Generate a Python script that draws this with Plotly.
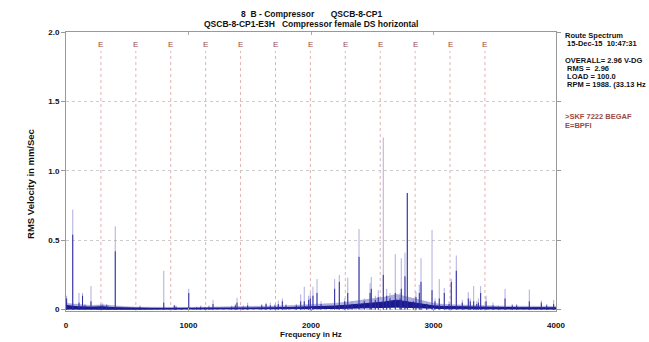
import plotly.graph_objects as go

# ---------------- data ----------------
peak_freq = [5, 55, 106, 135, 155, 204, 261, 286, 300, 332, 343, 402, 504, 604, 798, 884, 898, 1002,
             1067, 1100, 1135, 1167, 1200, 1353, 1382, 1396, 1447, 1483, 1598, 1633, 1668, 1706, 1733,
             1766, 1796, 1880, 1916, 1945, 1981, 1994, 2016, 2049, 2082, 2193, 2231, 2275, 2300, 2335,
             2392, 2435, 2482, 2492, 2525, 2549, 2590, 2618, 2645, 2688, 2727, 2737, 2767, 2786, 2835,
             2857, 2884, 2898, 2944, 2988, 3012, 3047, 3088, 3127, 3145, 3186, 3235, 3284, 3300, 3328,
             3353, 3366, 3385, 3429, 3486, 3529, 3584, 3643, 3679, 3782, 3880, 3924, 3981]
peak_light = [0.10, 0.72, 0.12, 0.12, 0.04, 0.17, 0.03, 0.04, 0.045, 0.04, 0.03, 0.60, 0.02, 0.03, 0.28,
              0.035, 0.03, 0.15, 0.02, 0.03, 0.02, 0.03, 0.07, 0.03, 0.04, 0.085, 0.03, 0.05, 0.04, 0.05,
              0.05, 0.04, 0.065, 0.08, 0.04, 0.04, 0.11, 0.165, 0.10, 0.12, 0.165, 0.22, 0.06, 0.22, 0.25,
              0.08, 0.23, 0.06, 0.58, 0.08, 0.19, 0.235, 0.10, 0.14, 1.24, 0.15, 0.12, 0.40, 0.12, 0.37,
              0.41, 0.84, 0.08, 0.13, 0.18, 0.37, 0.05, 0.575, 0.08, 0.22, 0.155, 0.06, 0.22, 0.39, 0.07,
              0.125, 0.08, 0.17, 0.06, 0.08, 0.17, 0.10, 0.05, 0.03, 0.15, 0.04, 0.04, 0.145, 0.065, 0.04,
              0.07]
peak_dark = [0.08, 0.54, 0.05, 0.10, 0.03, 0.06, 0.02, 0.03, 0.03, 0.03, 0.02, 0.42, 0.015, 0.02, 0.05,
             0.03, 0.02, 0.12, 0.015, 0.02, 0.015, 0.02, 0.04, 0.02, 0.03, 0.05, 0.02, 0.03, 0.03, 0.04,
             0.03, 0.03, 0.04, 0.06, 0.03, 0.03, 0.06, 0.06, 0.07, 0.08, 0.10, 0.12, 0.04, 0.15, 0.20,
             0.06, 0.12, 0.04, 0.38, 0.06, 0.12, 0.15, 0.07, 0.09, 0.25, 0.10, 0.08, 0.12, 0.08, 0.15,
             0.24, 0.84, 0.06, 0.09, 0.12, 0.20, 0.04, 0.14, 0.06, 0.08, 0.12, 0.04, 0.20, 0.28, 0.05,
             0.08, 0.06, 0.06, 0.04, 0.05, 0.12, 0.06, 0.03, 0.02, 0.08, 0.03, 0.03, 0.06, 0.05, 0.03,
             0.04]

floor_freq = [0, 100, 200, 300, 400, 500, 600, 700, 800, 900, 1000, 1100, 1200, 1300, 1400, 1500, 1600,
              1700, 1800, 1900, 2000, 2100, 2200, 2300, 2400, 2500, 2600, 2700, 2800, 2900, 3000, 3100,
              3200, 3300, 3400, 3500, 3600, 3700, 3800, 3900, 4000]
floor_lo = [0.004, 0.005, 0.004, 0.004, 0.003, 0.003, 0.003, 0.003, 0.003, 0.003, 0.003, 0.003, 0.003,
            0.003, 0.004, 0.004, 0.004, 0.004, 0.005, 0.005, 0.006, 0.007, 0.008, 0.010, 0.012, 0.015,
            0.018, 0.018, 0.016, 0.012, 0.009, 0.007, 0.006, 0.005, 0.005, 0.004, 0.004, 0.004, 0.004,
            0.004, 0.004]
floor_hi = [0.030, 0.020, 0.018, 0.020, 0.014, 0.011, 0.010, 0.009, 0.009, 0.009, 0.009, 0.009, 0.010,
            0.010, 0.011, 0.011, 0.012, 0.013, 0.015, 0.017, 0.020, 0.022, 0.026, 0.032, 0.038, 0.046,
            0.055, 0.068, 0.055, 0.038, 0.027, 0.022, 0.020, 0.018, 0.018, 0.016, 0.014, 0.014, 0.014,
            0.013, 0.013]
floor_haze = [0.045, 0.035, 0.03, 0.035, 0.025, 0.02, 0.018, 0.016, 0.016, 0.016, 0.016, 0.016, 0.02,
              0.02, 0.022, 0.022, 0.024, 0.026, 0.028, 0.032, 0.036, 0.04, 0.046, 0.055, 0.065, 0.08,
              0.09, 0.11, 0.09, 0.065, 0.045, 0.036, 0.033, 0.03, 0.03, 0.028, 0.025, 0.025, 0.025,
              0.023, 0.023]

bpfi_freq = [285, 570, 855, 1140, 1425, 1710, 1995, 2280, 2565, 2850, 3135, 3420]

x_ticks = [0, 1000, 2000, 3000, 4000]
x_ticktext = ["0", "1000", "2000", "3000", "4000"]
y_ticks = [0, 0.5, 1.0, 1.5, 2.0]
y_ticktext = ["0", "0.5", "1.0", "1.5", "2.0"]

title_lines = ["8  B - Compressor       QSCB-8-CP1",
               "QSCB-8-CP1-E3H   Compressor female DS horizontal"]
info_lines = ["Route Spectrum", " 15-Dec-15  10:47:31", "OVERALL= 2.96 V-DG", " RMS =  2.96",
              " LOAD = 100.0", " RPM = 1988. (33.13 Hz"]
fault_lines = [">SKF 7222 BEGAF", "E=BPFI"]
x_title = "Frequency in Hz"
y_title = "RMS Velocity in mm/Sec"

# ---------------- figure ----------------
W, H = 649, 342
L, R, T, B = 66, 93, 32, 29
plot_h = H - T - B
plot_w = W - L - R
FONT = "Liberation Sans, Arial, sans-serif"
NAVY = "#1a1a90"
SPIKE = "#2c2ca0"
LIGHT = "rgba(140,140,210,0.7)"
BROWN = "#9a4a45"


def py(ypix):
    return (H - B - ypix) / plot_h


def px(xpix):
    return (xpix - L) / plot_w


def spikes(freqs, amps):
    xs, ys = [], []
    for f, a in zip(freqs, amps):
        xs += [f, f, None]
        ys += [0, a, None]
    return xs, ys


fig = go.Figure()

fig.add_trace(go.Scatter(x=floor_freq, y=floor_lo, mode="lines", line=dict(color=LIGHT, width=0.5),
                         hoverinfo="skip", showlegend=False))
fig.add_trace(go.Scatter(x=floor_freq, y=floor_haze, mode="lines", fill="tonexty",
                         fillcolor=LIGHT, line=dict(color=LIGHT, width=0.5),
                         hoverinfo="skip", showlegend=False))
lx, ly = spikes(peak_freq, peak_light)
fig.add_trace(go.Scatter(x=lx, y=ly, mode="lines", line=dict(color=LIGHT, width=1),
                         hoverinfo="skip", showlegend=False))
fig.add_trace(go.Scatter(x=floor_freq, y=floor_lo, mode="lines", line=dict(color=NAVY, width=1),
                         hoverinfo="skip", showlegend=False))
fig.add_trace(go.Scatter(x=floor_freq, y=floor_hi, mode="lines", fill="tonexty",
                         fillcolor=NAVY, line=dict(color=NAVY, width=1),
                         hoverinfo="skip", showlegend=False))
dx, dy = spikes(peak_freq, peak_dark)
fig.add_trace(go.Scatter(x=dx, y=dy, mode="lines", line=dict(color=SPIKE, width=1),
                         hoverinfo="skip", showlegend=False))

shapes = []
annotations = []
for f in bpfi_freq:
    shapes.append(dict(type="line", xref="x", yref="paper", x0=f, x1=f, y0=0, y1=py(51),
                       line=dict(color="rgba(200,130,130,0.6)", width=1, dash="dot"), layer="below"))
    annotations.append(dict(x=f, xref="x", y=py(45), yref="paper", text="E", showarrow=False,
                            font=dict(family=FONT, size=8, color=BROWN), xanchor="center", yanchor="middle"))

for i, t in enumerate(title_lines):
    annotations.append(dict(x=0.5, xref="paper", y=py(14 + 10 * i), yref="paper", text="<b>%s</b>" % t,
                            showarrow=False, font=dict(family=FONT, size=8.5, color="#111"),
                            xanchor="center", yanchor="middle"))

xr = px(563)
for t, yp in zip(info_lines, [36, 44, 61, 69, 77, 85]):
    annotations.append(dict(x=xr, xref="paper", y=py(yp), yref="paper", text="<b>%s</b>" % t,
                            showarrow=False, font=dict(family=FONT, size=7.5, color="#111"),
                            xanchor="left", yanchor="middle"))
for t, yp in zip(fault_lines, [117, 126]):
    annotations.append(dict(x=xr, xref="paper", y=py(yp), yref="paper", text="<b>%s</b>" % t,
                            showarrow=False, font=dict(family=FONT, size=7.5, color=BROWN),
                            xanchor="left", yanchor="middle"))

annotations.append(dict(x=0.5, xref="paper", y=py(337), yref="paper", text="<b>%s</b>" % x_title,
                        showarrow=False, font=dict(family=FONT, size=8, color="#111"),
                        xanchor="center", yanchor="middle"))
annotations.append(dict(x=px(31), xref="paper", y=py(185), yref="paper", text="<b>%s</b>" % y_title,
                        showarrow=False, textangle=-90, font=dict(family=FONT, size=9.5, color="#111"),
                        xanchor="center", yanchor="middle"))

fig.update_layout(
    width=W, height=H,
    margin=dict(l=L, r=R, t=T, b=B),
    paper_bgcolor="white", plot_bgcolor="white",
    font=dict(family=FONT, size=8, color="#111"),
    shapes=shapes, annotations=annotations,
    xaxis=dict(range=[0, 4000], tickvals=x_ticks, ticktext=["<b>%s</b>" % s for s in x_ticktext],
               showgrid=False, zeroline=False, showline=True, linecolor="#999", linewidth=1,
               mirror="ticks", ticks="inside", ticklen=3, tickcolor="#aaa", ticklabelstandoff=6,
               tickfont=dict(size=8)),
    yaxis=dict(range=[-0.01, 2.0], tickvals=y_ticks, ticktext=["<b>%s</b>" % s for s in y_ticktext],
               showgrid=True, gridcolor="#cccccc", griddash="dot", gridwidth=1, zeroline=False,
               showline=True, linecolor="#999", linewidth=1, mirror="ticks", ticks="outside",
               ticklen=4, tickcolor="#999", tickfont=dict(size=8)),
)

fig.write_html("out.html", config={"displayModeBar": False},
               post_script="document.body.style.margin='0';document.body.style.overflow='hidden';")
